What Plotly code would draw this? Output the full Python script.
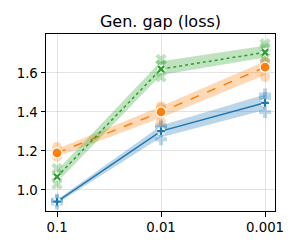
import plotly.graph_objects as go

categories = ["0.1", "0.01", "0.001"]

blue_mean = [0.94, 1.302, 1.447]
blue_lo = [0.93, 1.27, 1.41]
blue_hi = [0.95, 1.33, 1.49]
blue_seeds = [[0.93, 0.945, 0.95], [1.26, 1.32, 1.33], [1.40, 1.47, 1.49]]

orange_mean = [1.19, 1.40, 1.63]
orange_lo = [1.17, 1.37, 1.59]
orange_hi = [1.21, 1.43, 1.66]
orange_seeds = [[1.17, 1.19, 1.22], [1.35, 1.42, 1.43], [1.58, 1.65, 1.66]]

green_mean = [1.068, 1.62, 1.706]
green_lo = [1.04, 1.59, 1.68]
green_hi = [1.10, 1.66, 1.74]
green_seeds = [[1.03, 1.07, 1.11], [1.58, 1.64, 1.67], [1.68, 1.73, 1.75]]

y_ticks = [1.0, 1.2, 1.4, 1.6]

series = [
    ("#1f77b4", "rgba(31,119,180,0.3)", "cross", "cross-thin", 5.5, "solid", blue_mean, blue_lo, blue_hi, blue_seeds),
    ("#ff7f0e", "rgba(255,127,14,0.3)", "circle", None, 10, "dash", orange_mean, orange_lo, orange_hi, orange_seeds),
    ("#2ca02c", "rgba(44,160,44,0.3)", "x", "x-thin", 6, "dot", green_mean, green_lo, green_hi, green_seeds),
]

xs = list(range(len(categories)))
fig = go.Figure()
for color, fill, sym, thin, msize, dash, mean, lo, hi, seeds in series:
    fig.add_trace(go.Scatter(x=xs + xs[::-1], y=hi + lo[::-1], fill="toself",
                             fillcolor=fill, line=dict(width=0), mode="lines",
                             hoverinfo="skip", showlegend=False))
    sx, sy = [], []
    for i, vals in enumerate(seeds):
        for v in vals:
            sx.append(xs[i]); sy.append(v)
    fig.add_trace(go.Scatter(x=sx, y=sy, mode="markers", showlegend=False,
                             marker=dict(symbol=sym, size=10, color=fill, line=dict(width=0))))
    fig.add_trace(go.Scatter(x=xs, y=mean, mode="lines", showlegend=False,
                             line=dict(color=color, width=1.5, dash=dash)))
    if thin is None:
        fig.add_trace(go.Scatter(x=xs, y=mean, mode="markers", showlegend=False,
                                 marker=dict(symbol=sym, size=msize, color=color,
                                             line=dict(color="white", width=1.3))))
    else:
        fig.add_trace(go.Scatter(x=xs, y=mean, mode="markers", showlegend=False,
                                 marker=dict(symbol=thin, size=msize, color="white",
                                             line=dict(color="white", width=5))))
        fig.add_trace(go.Scatter(x=xs, y=mean, mode="markers", showlegend=False,
                                 marker=dict(symbol=thin, size=msize, color=color,
                                             line=dict(color=color, width=2.3))))

fig.update_layout(
    width=300, height=250,
    margin=dict(l=46, r=25, t=34, b=39),
    paper_bgcolor="white", plot_bgcolor="white",
    font=dict(family="DejaVu Sans", size=13.3, color="black"),
    title=dict(text="Gen. gap (loss)", x=0.5, xref="paper", xanchor="center",
               y=1, yref="paper", yanchor="bottom", pad=dict(b=7),
               font=dict(size=16, family="DejaVu Sans")),
    xaxis=dict(range=[-0.106, 2.096], tickvals=xs, ticktext=categories,
               showgrid=True, gridcolor="rgba(176,176,176,0.35)", gridwidth=1,
               showline=True, linecolor="black", linewidth=1, mirror=True,
               ticks="outside", ticklen=4.5, tickcolor="black", zeroline=False),
    yaxis=dict(range=[0.892, 1.8], tickvals=y_ticks, tickformat=".1f",
               showgrid=True, gridcolor="rgba(176,176,176,0.35)", gridwidth=1,
               showline=True, linecolor="black", linewidth=1, mirror=True,
               ticks="outside", ticklen=4.5, tickcolor="black", zeroline=False),
)

fig.write_html("out.html", config={"displayModeBar": False},
               post_script="document.body.style.margin='0px';")
